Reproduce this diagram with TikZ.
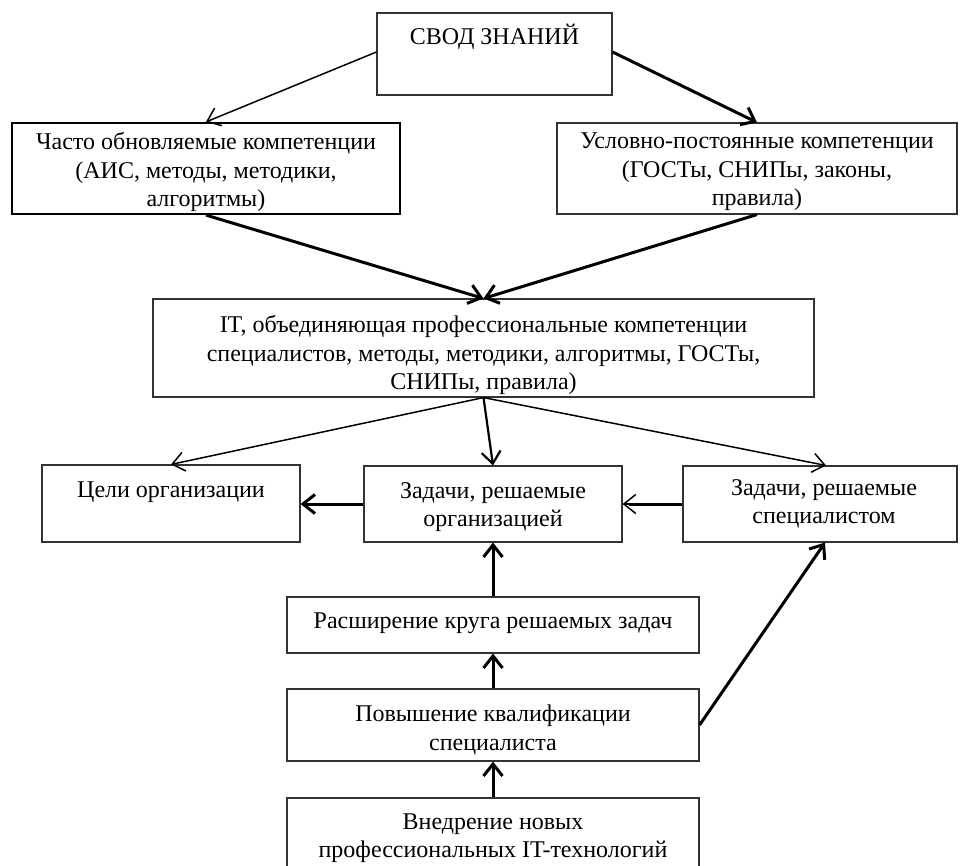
\documentclass[tikz,border=0pt]{standalone}
\usepackage{fontspec}
\setmainfont{Liberation Serif}
\usetikzlibrary{arrows.meta,fit}
\begin{document}
\begin{tikzpicture}[x=1pt,y=-1pt,
  box/.style={draw=black!80, line width=1.1pt, rectangle, inner sep=0pt},
  lbl/.style={font=\fontsize{24}{28.4}\selectfont, align=center, inner sep=0pt},
  tip/.style={-{Straight Barb[length=12pt,width=19pt]}},
  thin/.style={tip, line width=1.5pt},
  thick/.style={tip, line width=3pt}
]
\useasboundingbox (0,0) rectangle (960,865);
% boxes
\node[box, fit={(377,13) (612,95)}] (svod) {};
\node[box, line width=2.2pt, draw=black, fit={(12,123) (400,214)}] (chasto) {};
\node[box, fit={(557,123) (957,214)}] (uslov) {};
\node[box, fit={(153,299) (814,397)}] (it) {};
\node[box, fit={(42,465) (300,542)}] (tseli) {};
\node[box, fit={(364,466) (622,542)}] (zorg) {};
\node[box, fit={(683,466) (957,542)}] (zspec) {};
\node[box, fit={(287,597) (699,653)}] (rassh) {};
\node[box, fit={(287,689) (699,761)}] (povysh) {};
\node[box, fit={(287,798) (699,880)}] (vnedr) {};
% texts
\node[lbl] (svodT) at (494.5,37) {СВОД ЗНАНИЙ};
\node[lbl] (chastoT) at (206,172) {Часто обновляемые компетенции\\(АИС, методы, методики,\\алгоритмы)};
\node[lbl] (uslovT) at (757,172) {Условно-постоянные компетенции\\(ГОСТы, СНИПы, законы,\\правила)};
\node[lbl] (itT) at (483.5,355) {IT, объединяющая профессиональные компетенции\\специалистов, методы, методики, алгоритмы, ГОСТы,\\СНИПы, правила)};
\node[lbl] (tseliT) at (171,492) {Цели организации};
\node[lbl] (zorgT) at (493,507) {Задачи, решаемые\\организацией};
\node[lbl] (zspecT) at (824,504) {Задачи, решаемые\\специалистом};
\node[lbl] (rasshT) at (493,623) {Расширение круга решаемых задач};
\node[lbl] (povyshT) at (493,730) {Повышение квалификации\\специалиста};
\node[lbl] (vnedrT) at (493,838) {Внедрение новых\\профессиональных IT-технологий};
% connectors
\draw[thin] ([yshift=2pt]svod.west) -- (chasto.north);
\draw[thick] ([yshift=2pt]svod.east) -- (uslov.north);
\draw[thick] (chasto.south) -- (it.north);
\draw[thick] (uslov.south) -- (it.north);
\draw[thin] (it.south) -- (tseli.north);
\draw[tip, line width=2.2pt] (it.south) -- (zorg.north);
\draw[thin] (it.south) -- ([xshift=6pt]zspec.north);
\draw[thick] (zorg.west) -- (zorg.west -| tseli.east);
\draw[line width=3pt] (zspec.west) -- ([xshift=6pt]zspec.west -| zorg.east);
\draw[thin] ([xshift=8pt]zspec.west -| zorg.east) -- (zspec.west -| zorg.east);
\draw[thick] (rassh.north) -- (zorg.south);
\draw[thick] (povysh.north) -- (rassh.south);
\draw[thick] (vnedr.north) -- (povysh.south);
\draw[thick] (povysh.east) -- ([xshift=5pt]zspec.south);
\end{tikzpicture}
\end{document}
